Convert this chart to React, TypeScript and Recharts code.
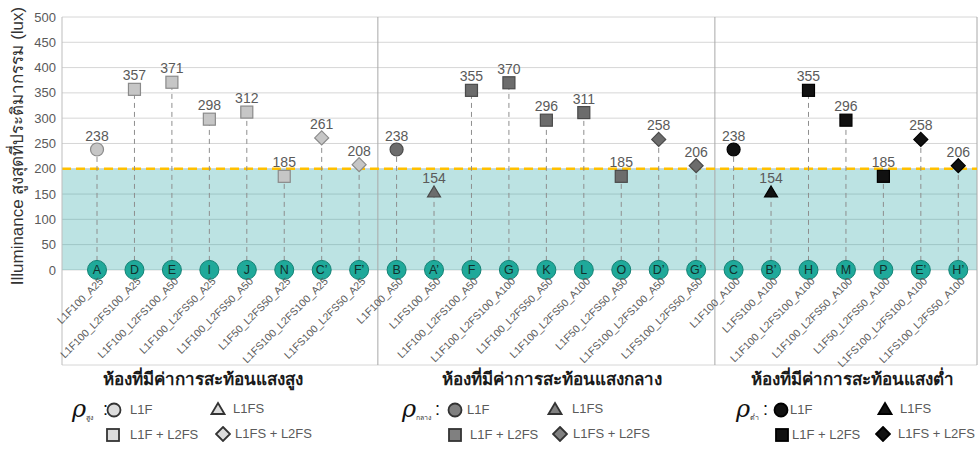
import React from 'react';
import {
  ComposedChart,
  Scatter,
  XAxis,
  YAxis,
  CartesianGrid,
  ReferenceArea,
  ReferenceLine,
  ErrorBar,
} from 'recharts';

// ---------- data ----------
const highLetters = ['A', 'D', 'E', 'I', 'J', 'N', 'C’', 'F’'];
const highNames = [
  'L1F100_A25',
  'L1F100_L2FS100_A25',
  'L1F100_L2FS100_A50',
  'L1F100_L2FS50_A25',
  'L1F100_L2FS50_A50',
  'L1F50_L2FS50_A25',
  'L1FS100_L2FS100_A25',
  'L1FS100_L2FS50_A25',
];
const highValues = [238, 357, 371, 298, 312, 185, 261, 208];
const highShapes = ['circle', 'square', 'square', 'square', 'square', 'square', 'diamond', 'diamond'];

const midLetters = ['B', 'A’', 'F', 'G', 'K', 'L', 'O', 'D’', 'G’'];
const midNames = [
  'L1F100_A50',
  'L1FS100_A50',
  'L1F100_L2FS100_A50',
  'L1F100_L2FS100_A100',
  'L1F100_L2FS50_A50',
  'L1F100_L2FS50_A100',
  'L1F50_L2FS50_A50',
  'L1FS100_L2FS100_A50',
  'L1FS100_L2FS50_A50',
];
const midValues = [238, 154, 355, 370, 296, 311, 185, 258, 206];
const midShapes = ['circle', 'triangle', 'square', 'square', 'square', 'square', 'square', 'diamond', 'diamond'];

const lowLetters = ['C', 'B’', 'H', 'M', 'P', 'E’', 'H’'];
const lowNames = [
  'L1F100_A100',
  'L1FS100_A100',
  'L1F100_L2FS100_A100',
  'L1F100_L2FS50_A100',
  'L1F50_L2FS50_A100',
  'L1FS100_L2FS100_A100',
  'L1FS100_L2FS50_A100',
];
const lowValues = [238, 154, 355, 296, 185, 258, 206];
const lowShapes = ['circle', 'triangle', 'square', 'square', 'square', 'diamond', 'diamond'];

const yTicks = [0, 50, 100, 150, 200, 250, 300, 350, 400, 450, 500];
const threshold = 200;

const groupTitles = ['ห้องที่มีค่าการสะท้อนแสงสูง', 'ห้องที่มีค่าการสะท้อนแสงกลาง', 'ห้องที่มีค่าการสะท้อนแสงต่ำ'];
const groupSubs = ['สูง', 'กลาง', 'ต่ำ'];
const legendNames = ['L1F', 'L1FS', 'L1F + L2FS', 'L1FS + L2FS'];
const yLabel = 'Illuminance สูงสุดที่ประติมากรรม (lux)';

// ---------- styles ----------
const groupStyles = [
  { fill: '#c6c6c6', stroke: '#8a8a8a', legendFill: '#dcdcdc', legendStroke: '#333' },
  { fill: '#6c6c6c', stroke: '#4a4a4a', legendFill: '#808080', legendStroke: '#333' },
  { fill: '#111111', stroke: '#000000', legendFill: '#111', legendStroke: '#000' },
];

type Pt = { x: number; lux: number; err: number[]; shape: string; letter: string; name: string; zero: number };

const build = (letters: string[], names: string[], values: number[], shapes: string[], offset: number): Pt[] =>
  letters.map((l, i) => ({
    x: offset + i,
    lux: values[i],
    err: [values[i], 0],
    shape: shapes[i],
    letter: l,
    name: names[i],
    zero: 0,
  }));

const highData = build(highLetters, highNames, highValues, highShapes, 0);
const midData = build(midLetters, midNames, midValues, midShapes, highLetters.length);
const lowData = build(lowLetters, lowNames, lowValues, lowShapes, highLetters.length + midLetters.length);
const allData = [...highData, ...midData, ...lowData];
const sep1 = highLetters.length - 0.5;
const sep2 = highLetters.length + midLetters.length - 0.5;
const lastEdge = allData.length - 0.5;

const FONT = '"Liberation Sans", "DejaVu Sans", Arial, sans-serif';

const drawMarker = (shape: string, cx: number, cy: number, fill: string, stroke: string, sw = 1.2) => {
  if (shape === 'circle') return <circle cx={cx} cy={cy} r={6.5} fill={fill} stroke={stroke} strokeWidth={sw} />;
  if (shape === 'square')
    return <rect x={cx - 6} y={cy - 6} width={12} height={12} fill={fill} stroke={stroke} strokeWidth={sw} />;
  if (shape === 'diamond')
    return (
      <polygon
        points={`${cx},${cy - 7} ${cx + 7},${cy} ${cx},${cy + 7} ${cx - 7},${cy}`}
        fill={fill}
        stroke={stroke}
        strokeWidth={sw}
      />
    );
  return (
    <polygon
      points={`${cx},${cy - 6} ${cx + 6.5},${cy + 5} ${cx - 6.5},${cy + 5}`}
      fill={fill}
      stroke={stroke}
      strokeWidth={sw}
    />
  );
};

const makeShape = (g: number) => (props: any) => {
  const { cx, cy, payload } = props;
  const st = groupStyles[g];
  return (
    <g>
      {drawMarker(payload.shape, cx, cy, st.fill, st.stroke)}
      <text
        x={cx}
        y={cy - 9}
        textAnchor="middle"
        fontSize={14}
        fill="#5a5a5a"
        fontFamily={FONT}
      >
        {payload.lux}
      </text>
    </g>
  );
};

const LetterShape = (props: any) => {
  const { cx, cy, payload } = props;
  const tx = cx + 7;
  const ty = cy + 12;
  return (
    <g>
      <circle cx={cx} cy={cy} r={9.5} fill="#1fa99a" stroke="#138174" strokeWidth={1} />
      <text
        x={cx}
        y={cy + 4.5}
        textAnchor="middle"
        fontSize={12.5}
        fill="#12302c"
        fontFamily={FONT}
      >
        {payload.letter}
      </text>
      <text
        x={tx}
        y={ty}
        textAnchor="end"
        fontSize={10.5}
        fill="#5a5a5a"
        fontFamily={FONT}
        transform={`rotate(-45 ${tx} ${ty})`}
      >
        {payload.name}
      </text>
    </g>
  );
};

const LegendIcon = ({ shape, fill, stroke }: { shape: string; fill: string; stroke: string }) => (
  <svg width={16} height={16} style={{ position: 'absolute', left: -8, top: -8 }}>
    {drawMarker(shape, 8, 8, fill, stroke, 1.8)}
  </svg>
);

const legendBlocks = [
  { rho: 72, colon: 103, items: [[114, 410, 130], [218, 409, 233], [113, 435, 130], [223, 434, 235]] },
  { rho: 402, colon: 435, items: [[455, 410, 467], [555, 409, 572], [455, 435, 470], [560, 434, 573]] },
  { rho: 736, colon: 763, items: [[781, 410, 790], [885, 409, 900], [782, 435, 792], [883, 434, 898]] },
];
const legendShapes = ['circle', 'triangle', 'square', 'diamond'];
const titleCenters = [203, 552, 852];

export default function App() {
  return (
    <div style={{ position: 'absolute', left: 0, top: 0, width: 979, height: 453, background: '#fff', fontFamily: FONT }}>
      <ComposedChart width={979} height={453} margin={{ top: 17, right: 2, bottom: 88, left: 0 }} data={allData}>
        <CartesianGrid vertical={false} stroke="#d6d6d6" strokeWidth={1} />
        <XAxis type="number" dataKey="x" domain={[-0.935, lastEdge]} hide />
        <YAxis
          type="number"
          domain={[-188, 500]}
          ticks={yTicks}
          interval={0}
          width={62}
          axisLine={{ stroke: '#bdbdbd' }}
          tickLine={false}
          tickSize={3}
          tickMargin={3}
          tick={{ fill: '#5a5a5a', fontSize: 13, fontFamily: FONT }}
        />
        <ReferenceArea y1={0} y2={threshold} fill="#21a3a3" fillOpacity={0.3} stroke="none" />
        <ReferenceLine x={sep1} stroke="#a8a8a8" strokeWidth={1} />
        <ReferenceLine x={sep2} stroke="#a8a8a8" strokeWidth={1} />
        <ReferenceLine x={lastEdge} stroke="#a8a8a8" strokeWidth={1} />
        <ReferenceLine y={threshold} stroke="#ffc000" strokeWidth={2.5} strokeDasharray="9 5" />
        <Scatter data={highData} dataKey="lux" isAnimationActive={false} shape={makeShape(0)}>
          <ErrorBar dataKey="err" direction="y" width={0} stroke="#8e8e8e" strokeWidth={1} strokeDasharray="5 4" />
        </Scatter>
        <Scatter data={midData} dataKey="lux" isAnimationActive={false} shape={makeShape(1)}>
          <ErrorBar dataKey="err" direction="y" width={0} stroke="#8e8e8e" strokeWidth={1} strokeDasharray="5 4" />
        </Scatter>
        <Scatter data={lowData} dataKey="lux" isAnimationActive={false} shape={makeShape(2)}>
          <ErrorBar dataKey="err" direction="y" width={0} stroke="#8e8e8e" strokeWidth={1} strokeDasharray="5 4" />
        </Scatter>
        <Scatter data={allData} dataKey="zero" isAnimationActive={false} shape={LetterShape} />
      </ComposedChart>

      {/* y-axis label */}
      <div
        style={{
          position: 'absolute',
          left: 18 - 160,
          top: 146 - 11,
          width: 320,
          height: 22,
          lineHeight: '22px',
          textAlign: 'center',
          fontSize: 17,
          color: '#333',
          transform: 'rotate(-90deg)',
          whiteSpace: 'nowrap',
        }}
      >
        {yLabel}
      </div>

      {/* group titles */}
      {groupTitles.map((t, i) => (
        <div
          key={t}
          style={{
            position: 'absolute',
            left: titleCenters[i] - 150,
            top: 369,
            width: 300,
            textAlign: 'center',
            fontSize: 17,
            fontWeight: 'bold',
            color: '#1a1a1a',
            whiteSpace: 'nowrap',
            lineHeight: '22px',
          }}
        >
          {t}
        </div>
      ))}

      {/* legends */}
      {legendBlocks.map((b, g) => (
        <React.Fragment key={g}>
          <div
            style={{
              position: 'absolute',
              left: b.rho,
              top: 396,
              fontSize: 24,
              fontStyle: 'italic',
              fontFamily: '"DejaVu Serif", serif',
              color: '#111',
              lineHeight: '26px',
            }}
          >
            ρ
          </div>
          <div
            style={{
              position: 'absolute',
              left: b.rho + 14,
              top: 413,
              fontSize: 7,
              color: '#333',
              lineHeight: '9px',
              whiteSpace: 'nowrap',
            }}
          >
            {groupSubs[g]}
          </div>
          <div style={{ position: 'absolute', left: b.colon, top: 399, fontSize: 18, color: '#111', lineHeight: '20px' }}>:</div>
          {b.items.map((it, k) => (
            <React.Fragment key={k}>
              <div style={{ position: 'absolute', left: it[0], top: it[1] }}>
                <LegendIcon shape={legendShapes[k]} fill={groupStyles[g].legendFill} stroke={groupStyles[g].legendStroke} />
              </div>
              <div
                style={{
                  position: 'absolute',
                  left: it[2],
                  top: it[1] - 9,
                  fontSize: 13,
                  color: '#5a5a5a',
                  lineHeight: '18px',
                  whiteSpace: 'nowrap',
                }}
              >
                {legendNames[k]}
              </div>
            </React.Fragment>
          ))}
        </React.Fragment>
      ))}
    </div>
  );
}
